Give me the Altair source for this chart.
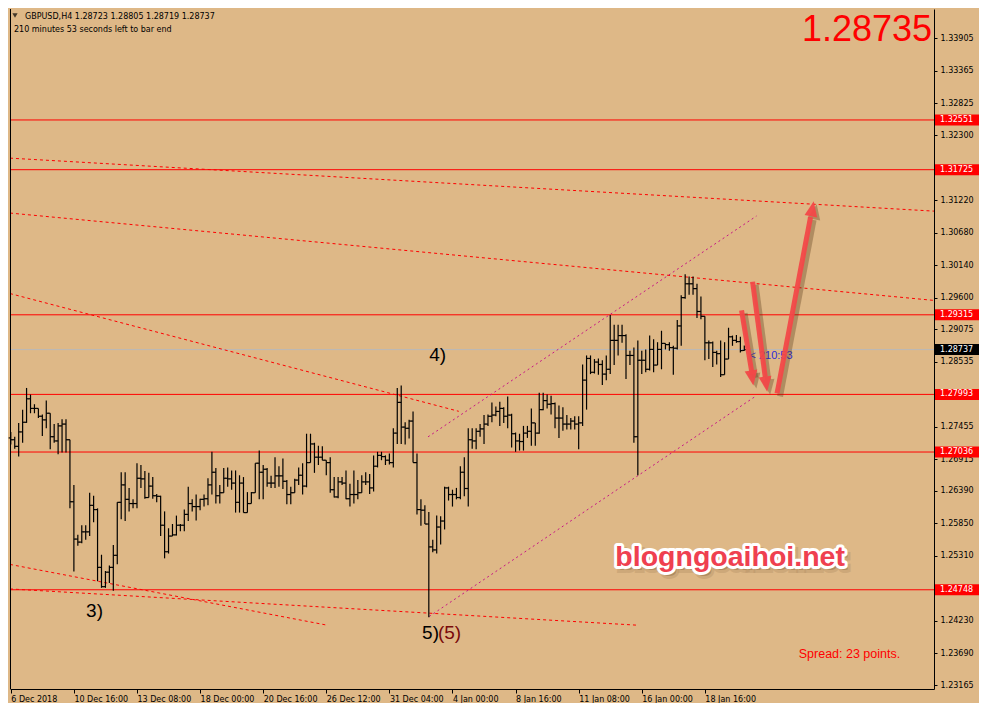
import json
import altair as alt
import pandas as pd

# ---------------- data ----------------
OPEN = [1.2727,1.2724,1.2713,1.2737,1.2753,1.2792,1.2776,1.2776,1.2763,1.2757,
        1.2768,1.2729,1.2722,1.2747,1.2750,1.2724,1.2621,1.2559,1.2554,1.2571,
        1.2571,1.2615,1.2608,1.2512,1.2480,1.2504,1.2512,1.2532,1.2620,1.2649,
        1.2625,1.2618,1.2618,1.2660,1.2659,1.2628,1.2647,1.2631,1.2630,1.2582,
        1.2538,1.2564,1.2566,1.2582,1.2582,1.2600,1.2618,1.2613,1.2613,1.2625,
        1.2626,1.2649,1.2670,1.2631,1.2636,1.2660,1.2659,1.2652,1.2620,1.2652,
        1.2603,1.2618,1.2636,1.2685,1.2670,1.2675,1.2652,1.2652,1.2664,1.2664,
        1.2655,1.2633,1.2636,1.2657,1.2665,1.2647,1.2686,1.2717,1.2695,1.2695,
        1.2690,1.2686,1.2641,1.2629,1.2654,1.2652,1.2626,1.2633,1.2633,1.2636,
        1.2654,1.2654,1.2644,1.2680,1.2698,1.2696,1.2690,1.2686,1.2735,1.2786,
        1.2745,1.2743,1.2755,1.2686,1.2608,1.2607,1.2584,1.2546,1.2541,1.2579,
        1.2589,1.2644,1.2633,1.2633,1.2628,1.2670,1.2643,1.2724,1.2722,1.2738,
        1.2742,1.2750,1.2763,1.2765,1.2771,1.2776,1.2763,1.2765,1.2734,1.2722,
        1.2721,1.2735,1.2738,1.2752,1.2735,1.2774,1.2789,1.2783,1.2784,1.2760,
        1.2760,1.2750,1.2750,1.2755,1.2750,1.2752,1.2823,1.2859,1.2836,1.2853,
        1.2849,1.2833,1.2841,1.2889,1.2889,1.2897,1.2897,1.2864,1.2864,1.2729,
        1.2856,1.2856,1.2841,1.2874,1.2848,1.2874,1.2884,1.2882,1.2877,1.2876,
        1.2913,1.2960,1.2983,1.2983,1.2975,1.2937,1.2929,1.2885,1.2885,1.2869,
        1.2867,1.2832,1.2858,1.2895,1.2889,1.2887,1.28723]
HIGH = [1.2737,1.2729,1.2752,1.2774,1.2810,1.2799,1.2783,1.2776,1.2766,1.2789,
        1.2768,1.2750,1.2752,1.2758,1.2758,1.2724,1.2649,1.2566,1.2582,1.2582,
        1.2636,1.2631,1.2610,1.2533,1.2506,1.2515,1.2549,1.2620,1.2670,1.2670,
        1.2644,1.2625,1.2685,1.2682,1.2672,1.2669,1.2662,1.2634,1.2631,1.2605,
        1.2577,1.2584,1.2598,1.2584,1.2608,1.2646,1.2625,1.2633,1.2626,1.2633,
        1.2660,1.2704,1.2677,1.2649,1.2677,1.2678,1.2673,1.2673,1.2665,1.2662,
        1.2637,1.2637,1.2685,1.2706,1.2682,1.2677,1.2664,1.2695,1.2680,1.2693,
        1.2657,1.2646,1.2659,1.2678,1.2685,1.2734,1.2734,1.2719,1.2714,1.2713,
        1.2690,1.2695,1.2662,1.2662,1.2662,1.2673,1.2651,1.2673,1.2657,1.2665,
        1.2670,1.2667,1.2698,1.2704,1.2704,1.2698,1.2701,1.2743,1.2810,1.2814,
        1.2753,1.2757,1.2771,1.2701,1.2625,1.2615,1.2604,1.2558,1.2598,1.2597,
        1.2646,1.2646,1.2641,1.2644,1.2680,1.2695,1.2743,1.2743,1.2743,1.2750,
        1.2765,1.2766,1.2786,1.2779,1.2787,1.2778,1.2796,1.2767,1.2736,1.2734,
        1.2747,1.2747,1.2776,1.2752,1.2802,1.2802,1.2799,1.2797,1.2786,1.2781,
        1.2778,1.2765,1.2760,1.2763,1.2763,1.2849,1.2864,1.2864,1.2858,1.2859,
        1.2856,1.2864,1.2931,1.2915,1.2915,1.2915,1.2899,1.2872,1.2877,1.2889,
        1.2872,1.2874,1.2897,1.2891,1.2886,1.2905,1.2884,1.2886,1.2880,1.2923,
        1.2964,1.2999,1.2995,1.2995,1.2983,1.2962,1.2929,1.2889,1.2887,1.2872,
        1.2889,1.2886,1.2910,1.2897,1.2898,1.2895,1.28805]
LOW = [1.2716,1.2709,1.2696,1.2719,1.2752,1.2768,1.2768,1.2760,1.2730,1.2743,
       1.2708,1.2719,1.2700,1.2703,1.2703,1.2610,1.2505,1.2548,1.2552,1.2558,
       1.2564,1.2587,1.2489,1.2478,1.2478,1.2486,1.2473,1.2517,1.2592,1.2589,
       1.2605,1.2610,1.2610,1.2644,1.2626,1.2628,1.2626,1.2620,1.2564,1.2527,
       1.2535,1.2564,1.2565,1.2572,1.2572,1.2589,1.2605,1.2590,1.2607,1.2613,
       1.2615,1.2633,1.2618,1.2618,1.2636,1.2646,1.2641,1.2603,1.2603,1.2603,
       1.2603,1.2618,1.2636,1.2625,1.2625,1.2646,1.2644,1.2644,1.2646,1.2642,
       1.2617,1.2617,1.2636,1.2649,1.2633,1.2645,1.2686,1.2669,1.2682,1.2690,
       1.2665,1.2636,1.2628,1.2627,1.2649,1.2625,1.2613,1.2618,1.2625,1.2636,
       1.2649,1.2634,1.2638,1.2678,1.2690,1.2682,1.2683,1.2678,1.2717,1.2717,
       1.2716,1.2726,1.2686,1.2600,1.2581,1.2584,1.2429,1.2537,1.2535,1.2550,
       1.2575,1.2623,1.2613,1.2625,1.2625,1.2630,1.2613,1.2709,1.2708,1.2729,
       1.2717,1.2747,1.2753,1.2763,1.2747,1.2752,1.2743,1.2711,1.2704,1.2706,
       1.2706,1.2727,1.2714,1.2714,1.2734,1.2773,1.2776,1.2766,1.2743,1.2727,
       1.2739,1.2741,1.2741,1.2741,1.2708,1.2747,1.2774,1.2833,1.2834,1.2832,
       1.2815,1.2823,1.2833,1.2848,1.2864,1.2885,1.2825,1.2848,1.2719,1.2665,
       1.2833,1.2836,1.2839,1.2836,1.2848,1.2841,1.2874,1.2872,1.2832,1.2874,
       1.2880,1.2958,1.2965,1.2965,1.2926,1.2924,1.2856,1.2858,1.2845,1.2849,
       1.2828,1.2832,1.2858,1.2880,1.2885,1.2869,1.28719]
CLOSE = [1.2724,1.2713,1.2737,1.2753,1.2792,1.2776,1.2776,1.2763,1.2757,1.2768,
         1.2729,1.2722,1.2747,1.2750,1.2724,1.2621,1.2559,1.2554,1.2571,1.2571,
         1.2615,1.2608,1.2512,1.2480,1.2504,1.2512,1.2532,1.2620,1.2649,1.2625,
         1.2618,1.2618,1.2660,1.2659,1.2628,1.2647,1.2631,1.2630,1.2582,1.2538,
         1.2564,1.2566,1.2582,1.2582,1.2600,1.2618,1.2613,1.2613,1.2625,1.2626,
         1.2649,1.2670,1.2631,1.2636,1.2660,1.2659,1.2652,1.2620,1.2652,1.2603,
         1.2618,1.2636,1.2685,1.2670,1.2675,1.2652,1.2652,1.2664,1.2664,1.2655,
         1.2633,1.2636,1.2657,1.2665,1.2647,1.2686,1.2717,1.2695,1.2695,1.2690,
         1.2686,1.2641,1.2629,1.2654,1.2652,1.2626,1.2633,1.2633,1.2636,1.2654,
         1.2654,1.2644,1.2680,1.2698,1.2696,1.2690,1.2686,1.2735,1.2786,1.2745,
         1.2743,1.2755,1.2686,1.2608,1.2607,1.2584,1.2546,1.2541,1.2579,1.2589,
         1.2644,1.2633,1.2633,1.2628,1.2670,1.2643,1.2724,1.2722,1.2738,1.2742,
         1.2750,1.2763,1.2765,1.2771,1.2776,1.2763,1.2765,1.2734,1.2722,1.2721,
         1.2735,1.2738,1.2752,1.2735,1.2774,1.2789,1.2783,1.2784,1.2760,1.2760,
         1.2750,1.2750,1.2755,1.2750,1.2752,1.2823,1.2859,1.2836,1.2853,1.2849,
         1.2833,1.2841,1.2889,1.2889,1.2897,1.2897,1.2864,1.2864,1.2729,1.2856,
         1.2856,1.2841,1.2874,1.2848,1.2874,1.2884,1.2882,1.2877,1.2876,1.2913,
         1.2960,1.2983,1.2983,1.2975,1.2937,1.2929,1.2885,1.2885,1.2869,1.2867,
         1.2832,1.2858,1.2895,1.2889,1.2887,1.2872,1.28737]

TIME_TICKS = [0, 16, 32, 48, 64, 80, 96, 112, 128, 144, 160, 176]
TIME_LABELS = ["6 Dec 2018", "10 Dec 16:00", "13 Dec 08:00", "18 Dec 00:00",
               "20 Dec 16:00", "26 Dec 12:00", "31 Dec 04:00", "4 Jan 00:00",
               "8 Jan 16:00", "11 Jan 08:00", "16 Jan 00:00", "18 Jan 16:00"]
PRICE_TICKS = [1.33905, 1.33365, 1.32825, 1.32300, 1.31220, 1.30680, 1.30140,
               1.29600, 1.29075, 1.28535, 1.27455, 1.26915, 1.26390, 1.25850,
               1.25310, 1.24230, 1.23690, 1.23165]

LEVELS = [1.32551, 1.31725, 1.29315, 1.27993, 1.27036, 1.24748]
BID = 1.28737

# red dotted trend lines (bar index / price of both ends)
TR_X1 = [-0.2, -0.2, -0.2, -0.2, -0.2]
TR_P1 = [1.31917, 1.31005, 1.29668, 1.25169, 1.24762]
TR_X2 = [234.1, 234.1, 113.6, 80.3, 159.1]
TR_P2 = [1.31037, 1.29554, 1.27712, 1.24159, 1.24159]

# magenta channel
CH_X1 = [105.8, 106.1]
CH_P1 = [1.27288, 1.24305]
CH_X2 = [189.1, 189.1]
CH_P2 = [1.30956, 1.27973]

# arrows: start, end of shaft, tip, head rotation
AR_X1 = [185.3, 188.1, 194.3]
AR_P1 = [1.2939, 1.29864, 1.2801]
AR_X2 = [188.0, 191.3, 202.8]
AR_P2 = [1.2832, 1.28283, 1.30939]
AR_TX = [188.3, 191.8, 203.6]
AR_TP = [1.2814, 1.28038, 1.3120]
AR_ANG = [351, 352, 190.7]

# wave labels
WL_TEXT = ["4)", "3)", "5)", "(5)"]
WL_X = [106.1, 19.1, 104.3, 108.3]
WL_P = [1.2854, 1.2429, 1.2393, 1.2393]
WL_COLOR = ["#000000", "#000000", "#000000", "#7a0a0a"]

W, H = 924, 680
XS = alt.Scale(domain=[-0.2, 234.1], nice=False, zero=False)
YS = alt.Scale(domain=[1.23100, 1.34394], nice=False, zero=False)

label_expr = json.dumps(TIME_LABELS) + "[round(datum.value / 16)]"
XAX = alt.Axis(orient="bottom", values=TIME_TICKS, labelExpr=label_expr, labelAlign="left",
               labelBaseline="top", labelPadding=2, tickSize=4, labelFont="DejaVu Sans",
               labelFontSize=8, labelColor="black", domainColor="black", tickColor="black",
               grid=False, title=None, labelFlush=False, labelOverlap=False, domainWidth=1)
YAX = alt.Axis(orient="right", values=PRICE_TICKS, format=".5f", labelPadding=3, tickSize=3,
               labelFont="DejaVu Sans", labelFontSize=8, labelColor="black",
               domainColor="black", tickColor="black", grid=False, title=None,
               labelFlush=False, labelOverlap=False, domainWidth=1)


def X(f):
    return alt.X(f, type="quantitative", scale=XS, axis=XAX)


def Y(f):
    return alt.Y(f, type="quantitative", scale=YS, axis=YAX)


bars = pd.DataFrame({"idx": list(range(len(CLOSE))), "o": OPEN, "h": HIGH, "l": LOW, "c": CLOSE})
base = alt.Chart(bars).transform_calculate(xl="datum.idx - 0.55", xr="datum.idx + 0.55")
hl = base.mark_rule(color="black", strokeWidth=1.2).encode(x=X("idx"), y=Y("l"), y2="h:Q")
op = base.mark_rule(color="black", strokeWidth=1.2).encode(x=X("xl"), x2="idx:Q", y=Y("o"))
cl = base.mark_rule(color="black", strokeWidth=1.2).encode(x=X("idx"), x2="xr:Q", y=Y("c"))

lv_df = pd.DataFrame({"p": LEVELS})
levels = alt.Chart(lv_df).mark_rule(color="#ff0000", strokeWidth=1).encode(
    x=alt.value(0), x2=alt.value(W), y=Y("p"))
bid = alt.Chart(pd.DataFrame({"p": [BID]})).mark_rule(color="#b9b9b9", strokeWidth=1).encode(
    x=alt.value(0), x2=alt.value(W), y=Y("p"))

tr_df = pd.DataFrame({"x1": TR_X1, "p1": TR_P1, "x2": TR_X2, "p2": TR_P2})
trends = alt.Chart(tr_df).mark_rule(color="#ff0000", strokeWidth=1, strokeDash=[3, 3]).encode(
    x=X("x1"), y=Y("p1"), x2="x2:Q", y2="p2:Q")
ch_df = pd.DataFrame({"x1": CH_X1, "p1": CH_P1, "x2": CH_X2, "p2": CH_P2})
channel = alt.Chart(ch_df).mark_rule(color="#c71585", strokeWidth=1, strokeDash=[2, 3]).encode(
    x=X("x1"), y=Y("p1"), x2="x2:Q", y2="p2:Q")

ar_df = pd.DataFrame({"x1": AR_X1, "p1": AR_P1, "x2": AR_X2, "p2": AR_P2,
                      "tx": AR_TX, "tp": AR_TP, "ang": AR_ANG})
HEAD = "M0,0L-0.8,-1.9L0.8,-1.9Z"
ar_sh = alt.Chart(ar_df).mark_rule(color="#5a3a1a", opacity=0.35, strokeWidth=6, xOffset=3,
                                  x2Offset=3, yOffset=3, y2Offset=3).encode(
    x=X("x1"), y=Y("p1"), x2="x2:Q", y2="p2:Q")
ah_sh = alt.Chart(ar_df).mark_point(shape=HEAD, filled=True, size=256, color="#5a3a1a",
                                    opacity=0.35, strokeWidth=0, xOffset=3, yOffset=3).encode(
    x=X("tx"), y=Y("tp"), angle=alt.Angle("ang:Q", scale=None))
ar = alt.Chart(ar_df).mark_rule(color="#f24848", opacity=0.95, strokeWidth=5).encode(
    x=X("x1"), y=Y("p1"), x2="x2:Q", y2="p2:Q")
ah = alt.Chart(ar_df).mark_point(shape=HEAD, filled=True, size=256, color="#f24848",
                                 opacity=0.95, strokeWidth=0).encode(
    x=X("tx"), y=Y("tp"), angle=alt.Angle("ang:Q", scale=None))

wl_df = pd.DataFrame({"t": WL_TEXT, "x": WL_X, "p": WL_P, "col": WL_COLOR})
waves = alt.Chart(wl_df).mark_text(font="Liberation Sans", fontSize=19, align="left",
                                   baseline="alphabetic").encode(
    x=X("x"), y=Y("p"), text="t:N", color=alt.Color("col:N", scale=None))


def ann(text, x, p, **kw):
    d = pd.DataFrame({"t": [text], "x": [x], "p": [p]})
    return alt.Chart(d).mark_text(baseline="alphabetic", **kw).encode(x=X("x"), y=Y("p"), text="t:N")


big = ann("1.28735", 233.6, 1.3386, align="right", font="Liberation Sans", fontSize=36, color="#ff0000")
spread = ann("Spread: 23 points.", 199.8, 1.2362, align="left", font="Liberation Sans",
             fontSize=12.5, color="#ff0000")
timer = ann("< 210:53", 187.3, 1.2858, align="left", font="Liberation Sans", fontSize=11,
            color="#2b2bd8")
WM_SIZE = 28.5
wm_sh = ann("blogngoaihoi.net", 153.3, 1.2515, align="left", font="Liberation Sans",
            fontWeight="bold", fontSize=WM_SIZE, color="#5a3a1a", opacity=0.35, stroke="#5a3a1a",
            strokeWidth=6, strokeOpacity=0.35, dx=3, dy=4)
wm_out = ann("blogngoaihoi.net", 153.3, 1.2515, align="left", font="Liberation Sans",
             fontWeight="bold", fontSize=WM_SIZE, color="#ffffff", stroke="#ffffff", strokeWidth=6,
             strokeJoin="round")
wm = ann("blogngoaihoi.net", 153.3, 1.2515, align="left", font="Liberation Sans",
         fontWeight="bold", fontSize=WM_SIZE, color="#ef4050")

# header (pixel positions inside the plot)
hdr = pd.DataFrame({"t": ["GBPUSD,H4  1.28723 1.28805 1.28719 1.28737",
                          "210 minutes 53 seconds left to bar end"],
                    "px": [15, 4], "py": [10, 23]})
header = alt.Chart(hdr).mark_text(font="DejaVu Sans", fontSize=8, align="left",
                                  baseline="alphabetic", color="black").encode(
    x=alt.X("px:Q", scale=None), y=alt.Y("py:Q", scale=None), text="t:N")
tri = alt.Chart(pd.DataFrame({"a": [0]})).mark_point(shape="triangle-down", filled=True,
                                                     size=28, color="black").encode(
    x=alt.value(5), y=alt.value(6.5))

left_frame = alt.Chart(pd.DataFrame({"a": [0]})).mark_rule(color="black", strokeWidth=1).encode(
    x=alt.value(0.5), y=alt.value(0), y2=alt.value(H))

# price label boxes on the right axis
BOX = "M-4,-1H4V1H-4Z"
box_df = pd.DataFrame({"p": LEVELS + [BID],
                       "t": ["%.5f" % v for v in LEVELS] + ["%.5f" % BID],
                       "col": ["#ff0000"] * len(LEVELS) + ["#000000"]})
boxes = alt.Chart(box_df).mark_point(shape=BOX, filled=True, size=121, opacity=1,
                                     strokeWidth=0).encode(
    x=alt.value(W + 23), y=Y("p"), color=alt.Color("col:N", scale=None))
box_txt = alt.Chart(box_df).mark_text(font="DejaVu Sans", fontSize=8, align="left",
                                      baseline="middle", color="white").encode(
    x=alt.value(W + 6), y=Y("p"), text="t:N")

chart = alt.layer(
    levels, bid, trends, channel, hl, op, cl,
    wm_sh, wm_out, wm, waves, big, spread, timer,
    ar_sh, ah_sh, ar, ah, header, tri, left_frame, boxes, box_txt
).properties(width=W, height=H, padding=0).configure(
    background="#deb887"
).configure_view(stroke=None, fill="#deb887")

chart.save("out.html", embed_options={"renderer": "svg", "actions": False})
